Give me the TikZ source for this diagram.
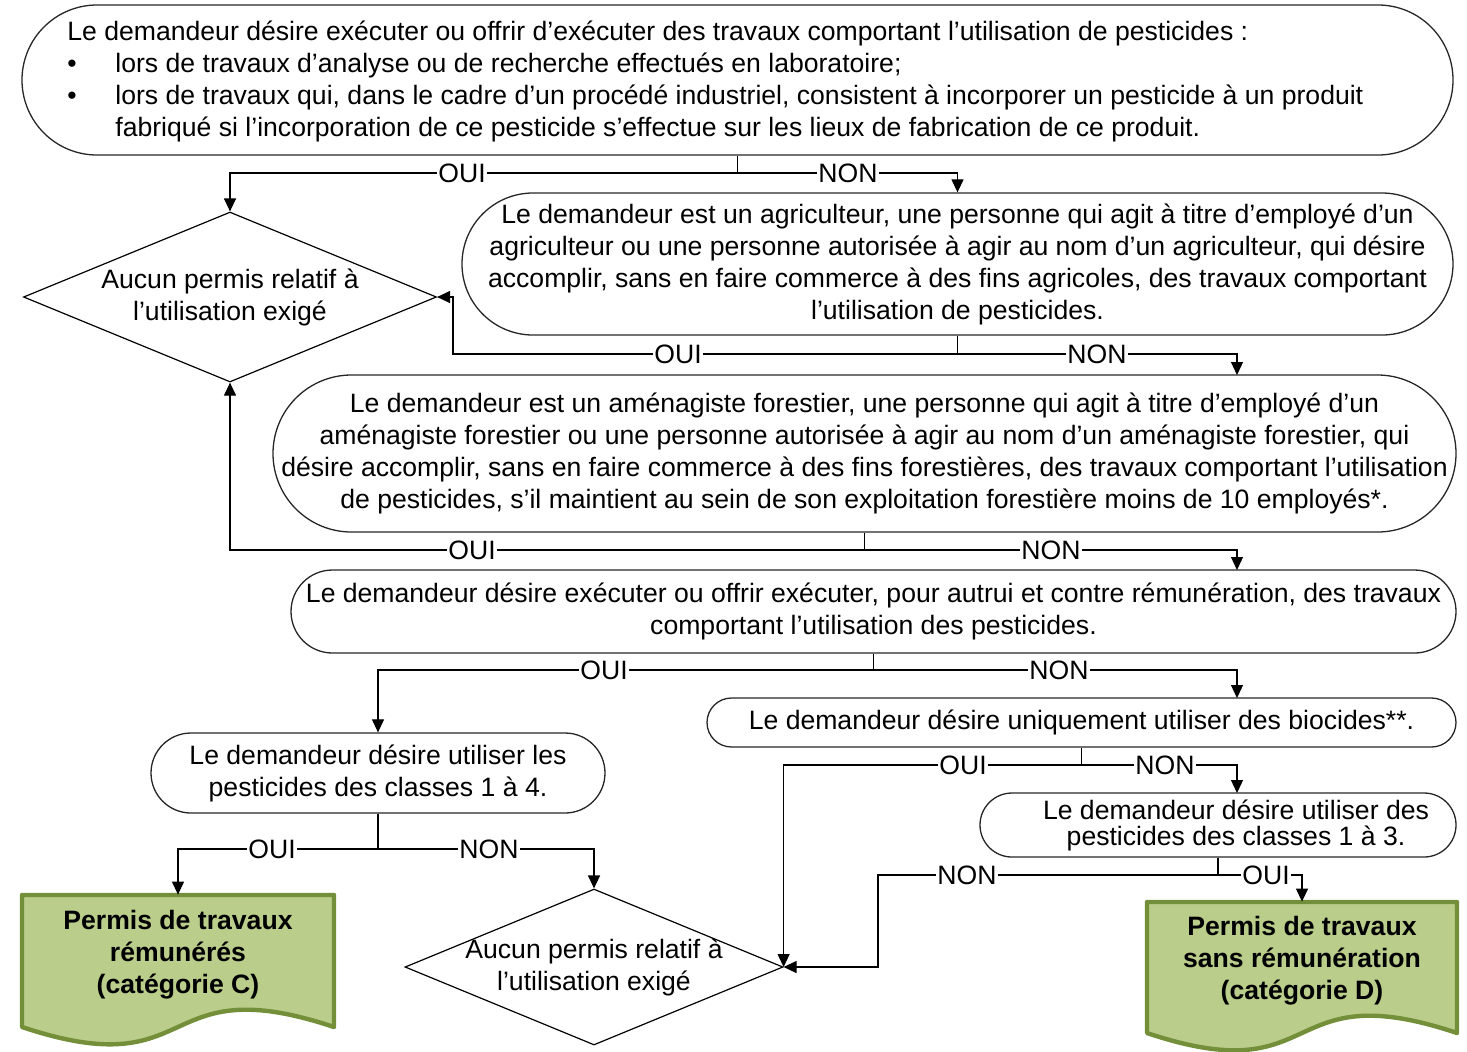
\documentclass[tikz,border=0pt]{standalone}
\usepackage{fontspec}
\setmainfont{Liberation Sans}
\usetikzlibrary{shapes.geometric}
\usetikzlibrary{arrows.meta}

\newlength\pix
\setlength\pix{0.5pt}
\definecolor{vertfond}{RGB}{186,205,138}
\definecolor{vertbord}{RGB}{115,143,58}

\tikzset{
  question/.style={draw=black!85,line width=0.65pt,rectangle,align=center,inner sep=0pt},
  losange/.style={draw,line width=0.6pt,diamond,shape aspect=2.4,align=center,inner sep=-2pt},
  reponse/.style={inner sep=0.6pt},
  fleche/.style={line width=0.6pt,-{Triangle[length=6.5pt,width=6pt]}},
  permis/.style={rectangle,align=center,inner sep=0pt,font=\fontsize{13.3}{16}\selectfont\bfseries},
  document/.style={fill=vertfond,draw=vertbord,line width=2.2pt,line join=round}
}

\begin{document}
\begin{tikzpicture}[x=\pix,y=-\pix,every node/.style={font=\fontsize{13.3}{16}\selectfont}]
        \useasboundingbox (0,0) rectangle (1467,1051);

        % questions
        \node[question,minimum width=1431\pix,minimum height=150\pix,rounded corners=75\pix] (box1) at (737.5,80) {};
        \node[anchor=west,align=left,inner sep=0pt] (txt1) at (67,81)
          {Le demandeur désire exécuter ou offrir d’exécuter des travaux comportant l’utilisation de pesticides :\\
           \makebox[48\pix][l]{\textbullet}lors de travaux d’analyse ou de recherche effectués en laboratoire;\\
           \makebox[48\pix][l]{\textbullet}lors de travaux qui, dans le cadre d’un procédé industriel, consistent à incorporer un pesticide à un produit\\
           \hspace*{48\pix}fabriqué si l’incorporation de ce pesticide s’effectue sur les lieux de fabrication de ce produit.};

        \node[question,minimum width=991\pix,minimum height=142\pix,rounded corners=71\pix] (box2) at (957.5,264)
          {Le demandeur est un agriculteur, une personne qui agit à titre d’employé d’un\\
           agriculteur ou une personne autorisée à agir au nom d’un agriculteur, qui désire\\
           accomplir, sans en faire commerce à des fins agricoles, des travaux comportant\\
           l’utilisation de pesticides.};

        \node[question,minimum width=1183\pix,minimum height=157\pix,rounded corners=78.5\pix] (box3) at (864.5,453.5)
          {Le demandeur est un aménagiste forestier, une personne qui agit à titre d’employé d’un\\
           aménagiste forestier ou une personne autorisée à agir au nom d’un aménagiste forestier, qui\\
           désire accomplir, sans en faire commerce à des fins forestières, des travaux comportant l’utilisation\\
           de pesticides, s’il maintient au sein de son exploitation forestière moins de 10 employés*.};

        \node[question,minimum width=1165\pix,minimum height=83\pix,rounded corners=41.5\pix] (box4) at (873.5,611.5)
          {Le demandeur désire exécuter ou offrir exécuter, pour autrui et contre rémunération, des travaux\\
           comportant l’utilisation des pesticides.};

        \node[question,minimum width=749\pix,minimum height=49\pix,rounded corners=24.5\pix] (box6) at (1081.5,722.5)
          {Le demandeur désire uniquement utiliser des biocides**.};

        \node[question,minimum width=454\pix,minimum height=80\pix,rounded corners=40\pix] (box5) at (378,773)
          {Le demandeur désire utiliser les\\pesticides des classes 1 à 4.};

        \node[question,minimum width=476\pix,minimum height=64\pix,rounded corners=32\pix,
              font=\fontsize{13.3}{13}\selectfont] (box7) at (1218,825)
          {\hspace*{36\pix}Le demandeur désire utiliser des\\\hspace*{36\pix}pesticides des classes 1 à 3.};

        % aucun permis
        \node[losange,minimum width=413\pix,minimum height=170\pix] (dia1) at (230,297)
          {Aucun permis relatif à\\l’utilisation exigé};
        \node[losange,minimum width=378\pix,minimum height=156\pix] (dia2) at (594,967)
          {Aucun permis relatif à\\l’utilisation exigé};

        % permis
        \draw[document] (22,895) -- (334,895) -- (334,1027)
          .. controls (154,967) and (202,1087) .. (22,1027) -- cycle;
        \draw[document] (1147,902) -- (1457,902) -- (1457,1033)
          .. controls (1278,973) and (1326,1093) .. (1147,1033) -- cycle;
        \node[permis,minimum width=312\pix,minimum height=120\pix] (permC) at (178,955)
          {Permis de travaux\\rémunérés\\(catégorie C)};
        \node[permis,minimum width=310\pix,minimum height=118\pix] (permD) at (1302,961)
          {Permis de travaux\\sans rémunération\\(catégorie D)};

        % reponses
        \node[reponse] (oui1) at (462,173) {OUI};
        \node[reponse] (non1) at (848,173) {NON};
        \node[reponse] (oui2) at (678,354) {OUI};
        \node[reponse] (non2) at (1097,354) {NON};
        \node[reponse] (oui3) at (472,550) {OUI};
        \node[reponse] (non3) at (1051,550) {NON};
        \node[reponse] (oui4) at (604,670) {OUI};
        \node[reponse] (non4) at (1059,670) {NON};
        \node[reponse] (oui6) at (963,765) {OUI};
        \node[reponse] (non6) at (1165,765) {NON};
        \node[reponse] (oui5) at (272,849) {OUI};
        \node[reponse] (non5) at (489,849) {NON};
        \node[reponse] (non7) at (967,875) {NON};
        \node[reponse] (oui7) at (1266,875) {OUI};

        \coordinate (k2) at (453,297);
        \coordinate (k7) at (878,967);
        \coordinate (in3) at (1237,375);
        \coordinate (in4) at (1237,570);
        \coordinate (in6) at (1237,698);
        \coordinate (in7) at (1237,793);

        % liens
        \draw[fleche] (box1.south) |- (oui1) -| (dia1.north);
        \draw[fleche] (box1.south) |- (non1) -| (box2.north);
        \draw[fleche] (box2.south) |- (oui2) -| (k2) -- (dia1.east);
        \draw[fleche] (box2.south) |- (non2) -| (in3);
        \draw[fleche] (box3.south) |- (oui3) -| (dia1.south);
        \draw[fleche] (box3.south) |- (non3) -| (in4);
        \draw[fleche] (box4.south) |- (oui4) -| (box5.north);
        \draw[fleche] (box4.south) |- (non4) -| (in6);
        \draw[fleche] (box6.south) |- (oui6) -| (dia2.east);
        \draw[fleche] (box6.south) |- (non6) -| (in7);
        \draw[fleche] (box5.south) |- (oui5) -| (permC.north);
        \draw[fleche] (box5.south) |- (non5) -| (dia2.north);
        \draw[fleche] (box7.south) |- (non7) -| (k7) -- (dia2.east);
        \draw[fleche] (box7.south) |- (oui7) -| (permD.north);
    \end{tikzpicture}
\end{document}
